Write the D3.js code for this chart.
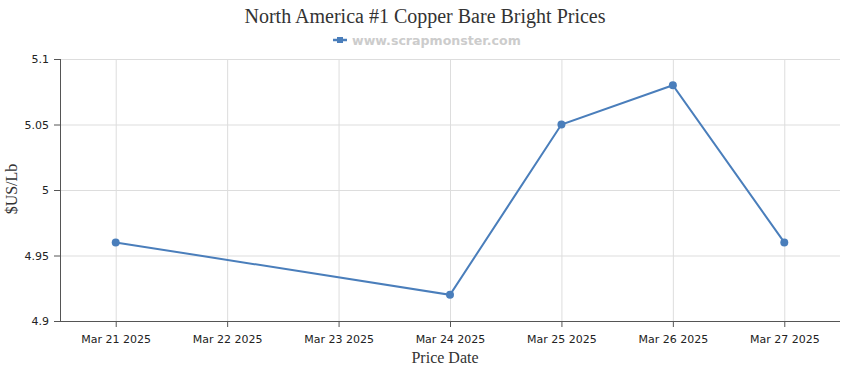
<!DOCTYPE html>
<html>
<head>
<meta charset="utf-8">
<script src="https://cdn.jsdelivr.net/npm/d3@7"></script>
<style>
  body { margin: 0; background: #fff; }
  .axis text { font-family: "DejaVu Sans", sans-serif; font-size: 11px; fill: #222; }
  .axis path, .axis line { stroke: #555; }
  .grid line { stroke: #ddd; }
  .grid path { display: none; }
</style>
</head>
<body>
<script>
const dates = ["2025-03-21", "2025-03-24", "2025-03-25", "2025-03-26", "2025-03-27"];
const prices = [4.96, 4.92, 5.05, 5.08, 4.96];
const yTicks = [4.9, 4.95, 5, 5.05, 5.1];

const margin = { top: 59, right: 10, bottom: 49, left: 60 },
  width = 850 - margin.left - margin.right,
  height = 370 - margin.top - margin.bottom;

const parse = d3.timeParse("%Y-%m-%d");
const data = dates.map((d, i) => ({ date: parse(d), price: prices[i] }));

const first = parse("2025-03-21"), last = parse("2025-03-27");
const x = d3.scaleTime()
  .domain([d3.timeHour.offset(first, -12), d3.timeHour.offset(last, 12)])
  .range([0, width]);
const y = d3.scaleLinear().domain([4.9, 5.1]).range([height, 0]);

const xTicks = d3.timeDay.range(first, d3.timeDay.offset(last, 1));
const fmt = d3.timeFormat("%b %d %Y");

const svg = d3.select("body").append("svg")
  .attr("width", 850).attr("height", 370);

svg.append("text")
  .attr("x", 425).attr("y", 23)
  .attr("text-anchor", "middle")
  .style("font-family", "'Liberation Serif', serif")
  .style("font-size", "20px")
  .style("fill", "#333")
  .text("North America #1 Copper Bare Bright Prices");

const legend = svg.append("g").attr("transform", "translate(333,40)");
legend.append("line").attr("x1", 0).attr("x2", 14).attr("y1", 0).attr("y2", 0)
  .attr("stroke", "#4a7ebb").attr("stroke-width", 2.5);
legend.append("rect").attr("x", 4).attr("y", -3).attr("width", 6).attr("height", 6)
  .attr("fill", "#4a7ebb");
legend.append("text").attr("x", 19).attr("y", 4.5)
  .style("font-family", "'DejaVu Sans', sans-serif")
  .style("font-size", "12.6px").style("font-weight", "bold")
  .style("fill", "#ccc")
  .text("www.scrapmonster.com");

const g = svg.append("g").attr("transform", `translate(${margin.left},${margin.top})`);

g.append("g").attr("class", "grid")
  .attr("transform", `translate(0,${height})`)
  .call(d3.axisBottom(x).tickValues(xTicks).tickSize(-height).tickFormat(""));
g.append("g").attr("class", "grid")
  .call(d3.axisLeft(y).tickValues(yTicks).tickSize(-width).tickFormat(""));

g.append("g").attr("class", "axis")
  .attr("transform", `translate(0,${height})`)
  .call(d3.axisBottom(x).tickValues(xTicks).tickFormat(fmt).tickSizeOuter(0).tickPadding(8))
  .call(s => s.select(".domain").attr("d", `M0,0.5H${width}`));

g.append("g").attr("class", "axis")
  .call(d3.axisLeft(y).tickValues(yTicks).tickFormat(d3.format("")).tickSizeOuter(0).tickPadding(5))
  .call(s => s.select(".domain").attr("d", `M0.5,0V${height}`));

g.append("text")
  .attr("x", width / 2 - 5).attr("y", height + 42)
  .attr("text-anchor", "middle")
  .style("font-family", "'Liberation Serif', serif")
  .style("font-size", "16px").style("fill", "#333")
  .text("Price Date");

g.append("text")
  .attr("transform", "rotate(-90)")
  .attr("x", -height / 2 + 1).attr("y", -43)
  .attr("text-anchor", "middle")
  .style("font-family", "'Liberation Serif', serif")
  .style("font-size", "16px").style("fill", "#333")
  .text("$US/Lb");

const line = d3.line().x(d => x(d.date)).y(d => y(d.price));
g.append("path").datum(data)
  .attr("d", line)
  .attr("fill", "none")
  .attr("stroke", "#4a7ebb")
  .attr("stroke-width", 2);

g.selectAll(".dot").data(data).enter().append("circle")
  .attr("class", "dot")
  .attr("cx", d => x(d.date)).attr("cy", d => y(d.price))
  .attr("r", 4)
  .attr("fill", "#4a7ebb");
</script>
</body>
</html>
